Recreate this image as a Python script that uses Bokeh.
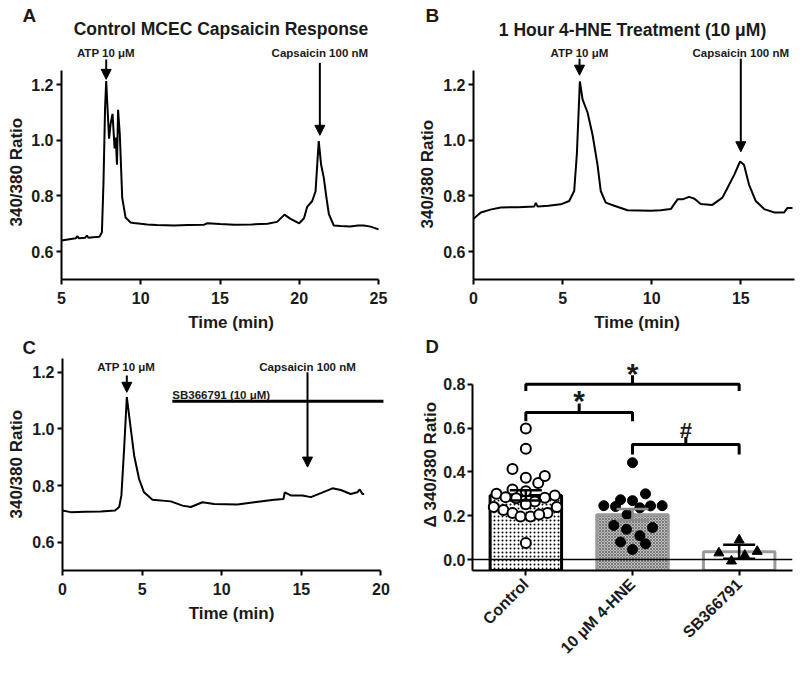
import math
from bokeh.plotting import figure
from bokeh.layouts import column, row
from bokeh.models import (Range1d, FixedTicker, Arrow, NormalHead, Label, Span, Title,
                          NumeralTickFormatter)
from bokeh.embed import file_html
from bokeh.resources import INLINE

FONT = "Liberation Sans"

# ---------------- Panel A: control trace ----------------
a_time = [5.0, 5.5, 5.9, 6.0, 6.1, 6.5, 6.6, 6.7, 7.0, 7.4, 7.55, 7.65, 7.75, 7.82, 7.9,
          8.0, 8.1, 8.22, 8.35, 8.42, 8.5, 8.57, 8.68, 8.83, 9.04, 9.36, 9.56, 10.0, 10.4,
          11.0, 12.1, 13.0, 14.0, 14.2, 15.0, 15.9, 17.0, 18.0, 18.6, 19.07, 19.45, 20.0,
          20.3, 20.5, 20.82, 21.03, 21.12, 21.23, 21.38, 21.55, 21.7, 21.87, 22.18, 22.6,
          23.2, 23.7, 24.07, 24.5, 25.0]
a_ratio = [0.640, 0.645, 0.648, 0.656, 0.648, 0.650, 0.658, 0.650, 0.652, 0.654, 0.670, 0.850,
           1.120, 1.213, 1.120, 1.006, 1.060, 1.095, 0.971, 1.010, 0.912, 1.110, 1.020, 0.794,
           0.723, 0.705, 0.703, 0.700, 0.698, 0.696, 0.694, 0.696, 0.697, 0.702, 0.699, 0.697,
           0.698, 0.700, 0.707, 0.733, 0.718, 0.702, 0.720, 0.761, 0.782, 0.817, 0.900, 0.997,
           0.912, 0.865, 0.800, 0.735, 0.694, 0.692, 0.690, 0.694, 0.694, 0.690, 0.680]

# ---------------- Panel B: 4-HNE trace ----------------
b_time = [0.0, 0.41, 1.0, 1.53, 2.5, 3.4, 3.5, 3.6, 4.2, 4.9, 5.37, 5.65, 5.8, 5.97, 6.12,
          6.4, 6.68, 6.96, 7.14, 7.42, 7.9, 8.64, 9.3, 9.95, 10.5, 11.07, 11.45, 11.73, 12.1,
          12.4, 12.75, 13.4, 13.97, 14.25, 14.63, 14.96, 15.18, 15.46, 15.84, 16.31, 16.87,
          17.43, 17.62, 17.9]
b_ratio = [0.718, 0.741, 0.752, 0.759, 0.760, 0.762, 0.775, 0.762, 0.765, 0.770, 0.782, 0.818,
           0.950, 1.212, 1.147, 1.100, 1.020, 0.912, 0.818, 0.776, 0.765, 0.749, 0.748, 0.747,
           0.749, 0.753, 0.788, 0.788, 0.797, 0.790, 0.771, 0.768, 0.794, 0.829, 0.876, 0.924,
           0.912, 0.841, 0.782, 0.753, 0.741, 0.741, 0.757, 0.757]

# ---------------- Panel C: SB366791 trace ----------------
c_time = [0.0, 0.52, 1.4, 2.4, 3.3, 3.56, 3.7, 3.87, 4.04, 4.29, 4.5, 4.81, 5.12, 5.65, 6.8,
          7.54, 8.06, 8.79, 9.52, 10.99, 12.04, 13.29, 13.88, 13.96, 14.34, 15.07, 15.6,
          16.23, 16.96, 17.48, 18.1, 18.52, 18.67, 18.84, 18.95]
c_ratio = [0.712, 0.706, 0.707, 0.708, 0.712, 0.724, 0.765, 0.929, 1.112, 1.000, 0.906, 0.823,
           0.776, 0.750, 0.744, 0.729, 0.724, 0.741, 0.735, 0.733, 0.741, 0.750, 0.752, 0.776,
           0.765, 0.765, 0.759, 0.773, 0.790, 0.784, 0.770, 0.776, 0.786, 0.770, 0.770]

# ---------------- Panel D: summary ----------------
groups = ["Control", "10 \u03bcM 4-HNE", "SB366791"]
group_pos = [0.5, 1.5, 2.5]
bar_mean = [0.293, 0.205, 0.036]
bar_sem = [0.023, 0.026, 0.032]

control_vals = [0.598, 0.506, 0.413, 0.373, 0.349, 0.382, 0.320, 0.312, 0.300, 0.293, 0.285,
                0.280, 0.265, 0.282, 0.253, 0.240, 0.240, 0.226, 0.213, 0.213, 0.196, 0.196,
                0.206, 0.076]
control_jit = [0.0, 0.0, -0.125, 0.0, 0.116, 0.178, -0.125, 0.0, -0.275, 0.272, -0.19, -0.09,
               0.084, 0.178, 0.0, -0.30, 0.29, -0.21, -0.125, 0.203, -0.05, 0.044, 0.125, 0.0]
hne_vals = [0.442, 0.300, 0.273, 0.269, 0.246, 0.242, 0.245, 0.246, 0.236, 0.206, 0.156,
            0.146, 0.138, 0.109, 0.080, 0.072, 0.046]
hne_jit = [0.0, 0.122, -0.112, 0.0, -0.269, -0.159, 0.169, 0.278, 0.069, -0.05, -0.175,
           0.188, -0.056, 0.069, -0.112, 0.122, 0.0]
sb_vals = [0.089, 0.030, 0.037, 0.019, -0.007]
sb_jit = [0.0, -0.19, 0.169, 0.053, -0.072]

TXT = "#1a1a1a"
Y_LABEL = "340/380 Ratio"
D_Y_LABEL = "\u0394 340/380 Ratio"


def style_axes(p, xstand=(7, 6), ystand=3):
    p.outline_line_color = None
    p.xgrid.visible = False
    p.ygrid.visible = False
    for ax in p.axis:
        ax.axis_line_width = 2
        ax.axis_line_color = "black"
        ax.major_tick_line_width = 2
        ax.major_tick_line_color = "black"
        ax.major_tick_out = 5
        ax.major_tick_in = 0
        ax.minor_tick_line_color = None
        ax.major_label_text_font = FONT
        ax.major_label_text_font_style = "bold"
        ax.major_label_text_font_size = "16px"
        ax.major_label_text_color = TXT
        ax.axis_label_text_font = FONT
        ax.axis_label_text_font_style = "bold"
        ax.axis_label_text_font_size = "17px"
        ax.axis_label_text_color = TXT
    p.xaxis.major_label_standoff = xstand[0]
    p.xaxis.axis_label_standoff = xstand[1]
    p.yaxis.major_label_standoff = ystand


def make_fig(w, h, left, bottom, xr, yr, right=0, **kw):
    p = figure(width=w, height=h, x_range=Range1d(*xr), y_range=Range1d(*yr),
               output_backend="svg", toolbar_location=None, title=None,
               min_border_left=left, min_border_right=right, min_border_top=0,
               min_border_bottom=bottom)
    style_axes(p, **kw)
    return p


def ylabel(p, text, offset, standoff):
    # vertical axis title, placed outside the tick labels, bottom end `offset` px above frame bottom
    p.add_layout(Title(text=text, align="left", offset=offset, standoff=standoff,
                       vertical_align="bottom", text_font=FONT, text_font_style="bold",
                       text_font_size="17px", text_color=TXT), "left")


def strip(x0, y0, w, h):
    """A frame-only figure whose data coordinates equal page pixels."""
    p = figure(width=w, height=h, x_range=Range1d(x0, x0 + w), y_range=Range1d(y0 + h, y0),
               x_axis_type=None, y_axis_type=None, output_backend="svg",
               toolbar_location=None, title=None, min_border=0)
    p.outline_line_color = None
    return p


def txt(p, x, y, s, size, align="center", baseline="middle"):
    p.add_layout(Label(x=x, y=y, text=s, text_font=FONT, text_font_style="bold",
                       text_font_size=size, text_align=align, text_baseline=baseline,
                       text_color=TXT))


def arrow(p, x, y0, y1):
    p.add_layout(Arrow(end=NormalHead(size=10, fill_color="black", line_color="black",
                                      line_width=1),
                       x_start=x, y_start=y0, x_end=x, y_end=y1,
                       line_width=2, line_color="black"))


def trace_axes(p, xticks, xb, xlabel="Time (min)"):
    p.xaxis.ticker = FixedTicker(ticks=xticks)
    p.xaxis.bounds = xb
    p.yaxis.ticker = FixedTicker(ticks=[0.6, 0.8, 1.0, 1.2])
    p.yaxis.bounds = (0.5, 1.25)
    p.yaxis.formatter = NumeralTickFormatter(format="0.0")
    p.xaxis.axis_label = xlabel


# ---- top strip: panel letters and titles ----
s1 = strip(0, 0, 800, 40)
txt(s1, 22, 25, "A", "19px", align="left", baseline="bottom")
txt(s1, 425, 25, "B", "19px", align="left", baseline="bottom")
txt(s1, 220.5, 28.5, "Control MCEC Capsaicin Response", "17.5px")
txt(s1, 632, 29, "1 Hour 4-HNE Treatment (10 \u03bcM)", "17.5px")

# ---- A ----
pA = make_fig(400, 294, 61, 51, (5, 5 + 339 / 15.85), (0.5, 0.5 + 243 / 283.0))
trace_axes(pA, [5, 10, 15, 20, 25], (5, 25))
ylabel(pA, Y_LABEL, 53, 6)
pA.line(a_time, a_ratio, line_width=2, line_color="black")
txt(pA, 7.8, 1.314, "ATP 10 \u03bcM", "11.5px")
arrow(pA, 7.82, 1.29, 1.219)
txt(pA, 21.3, 1.314, "Capsaicin 100 nM", "11.5px")
arrow(pA, 21.3, 1.279, 1.018)

# ---- B ----
pB = make_fig(400, 294, 73, 51, (0, 327 / 17.82), (0.5, 0.5 + 243 / 283.0))
trace_axes(pB, [0, 5, 10, 15], (0, 18))
ylabel(pB, Y_LABEL, 51, 8)
pB.line(b_time, b_ratio, line_width=2, line_color="black")
txt(pB, 5.95, 1.314, "ATP 10 \u03bcM", "11.5px")
arrow(pB, 5.95, 1.293, 1.234)
txt(pB, 15.0, 1.314, "Capsaicin 100 nM", "11.5px")
arrow(pB, 15.0, 1.293, 0.959)

# ---- middle strip: letters C and D ----
s2 = strip(0, 334, 800, 24)
txt(s2, 22, 357.5, "C", "18.5px", align="left", baseline="bottom")
txt(s2, 425, 356, "D", "18.5px", align="left", baseline="bottom")

# ---- C ----
pC = make_fig(400, 334, 62, 122, (0, 338 / 15.92), (0.5, 0.5 + 212 / 283.3))
trace_axes(pC, [0, 5, 10, 15, 20], (0, 20))
ylabel(pC, Y_LABEL, 52, 7)
pC.line(c_time, c_ratio, line_width=2, line_color="black")
txt(pC, 4.0, 1.218, "ATP 10 \u03bcM", "11.5px")
arrow(pC, 4.04, 1.188, 1.129)
txt(pC, 15.39, 1.218, "Capsaicin 100 nM", "11.5px")
arrow(pC, 15.39, 1.2, 0.865)
pC.segment(x0=[6.9], y0=[1.097], x1=[20.16], y1=[1.097], line_width=3, line_color="black")
txt(pC, 6.9, 1.099, "SB366791 (10 \u03bcM)", "11.5px", align="left", baseline="bottom")

# ---- D ----
pD = make_fig(400, 334, 72, 92, (0, 3), (-0.05, (587.5 - 358) / 250), right=8,
              xstand=(6, 6), ystand=2)
pD.yaxis.ticker = FixedTicker(ticks=[0.0, 0.2, 0.4, 0.6, 0.8])
pD.yaxis.bounds = (-0.05, 0.8)
pD.yaxis.formatter = NumeralTickFormatter(format="0.0")
ylabel(pD, D_Y_LABEL, 43, 1)
pD.xaxis.ticker = FixedTicker(ticks=group_pos)
pD.xaxis.major_label_overrides = {pos: g for pos, g in zip(group_pos, groups)}
pD.xaxis.major_label_orientation = math.pi / 4
pD.xaxis.major_label_text_font_size = "16px"

bw = 0.67
pD.vbar(x=[group_pos[0]], top=[bar_mean[0]], bottom=-0.05, width=bw, fill_color="white",
        line_color="black", line_width=3, hatch_pattern="dot", hatch_color="black",
        hatch_scale=4, hatch_weight=1)
pD.vbar(x=[group_pos[1]], top=[bar_mean[1]], bottom=-0.05, width=bw, fill_color="#bdbdbd",
        line_color="#9a9a9a", line_width=3, hatch_pattern="diagonal_cross",
        hatch_color="#7a7a7a", hatch_scale=3, hatch_weight=1)
pD.vbar(x=[group_pos[2]], top=[bar_mean[2]], bottom=-0.05, width=bw, fill_color="white",
        line_color="#9a9a9a", line_width=3)

pD.add_layout(Span(location=0, dimension="width", line_color="black", line_width=1.5))

pD.scatter([group_pos[0] + j for j in control_jit], control_vals, marker="circle", size=10,
           fill_color="white", line_color="black", line_width=2)
pD.scatter([group_pos[1] + j for j in hne_jit], hne_vals, marker="circle", size=10,
           fill_color="black", line_color="black")
pD.scatter([group_pos[2] + j for j in sb_jit], sb_vals, marker="triangle", size=10,
           fill_color="black", line_color="black")

err_colors = ["black", "#8a8a8a", "black"]
lo = [m - s for m, s in zip(bar_mean, bar_sem)]
hi = [m + s for m, s in zip(bar_mean, bar_sem)]
cw = 0.15
pD.segment(x0=group_pos, y0=lo, x1=group_pos, y1=hi, line_color=err_colors, line_width=2.5)
pD.segment(x0=[x - cw for x in group_pos], y0=hi, x1=[x + cw for x in group_pos], y1=hi,
           line_color=err_colors, line_width=2.5)
pD.segment(x0=[x - cw for x in group_pos], y0=lo, x1=[x + cw for x in group_pos], y1=lo,
           line_color=err_colors, line_width=2.5)


def bracket(p, x0, x1, y, leg, tip):
    xm = (x0 + x1) / 2
    p.multi_line(xs=[[x0, x0, x1, x1], [xm, xm]], ys=[[y - leg, y, y, y - leg], [y, y + tip]],
                 line_color="black", line_width=3)


bracket(pD, 0.5, 2.5, 0.80, 0.03, 0.042)
bracket(pD, 0.5, 1.5, 0.672, 0.04, 0.04)
bracket(pD, 1.5, 2.5, 0.525, 0.045, 0.035)
txt(pD, 1.5, 0.85, "*", "30px")
txt(pD, 1.0, 0.726, "*", "30px")
txt(pD, 2.0, 0.59, "#", "22px")

layout = column(s1, row(pA, pB), s2, row(pC, pD))
open("out.html", "w").write(file_html(layout, INLINE))
